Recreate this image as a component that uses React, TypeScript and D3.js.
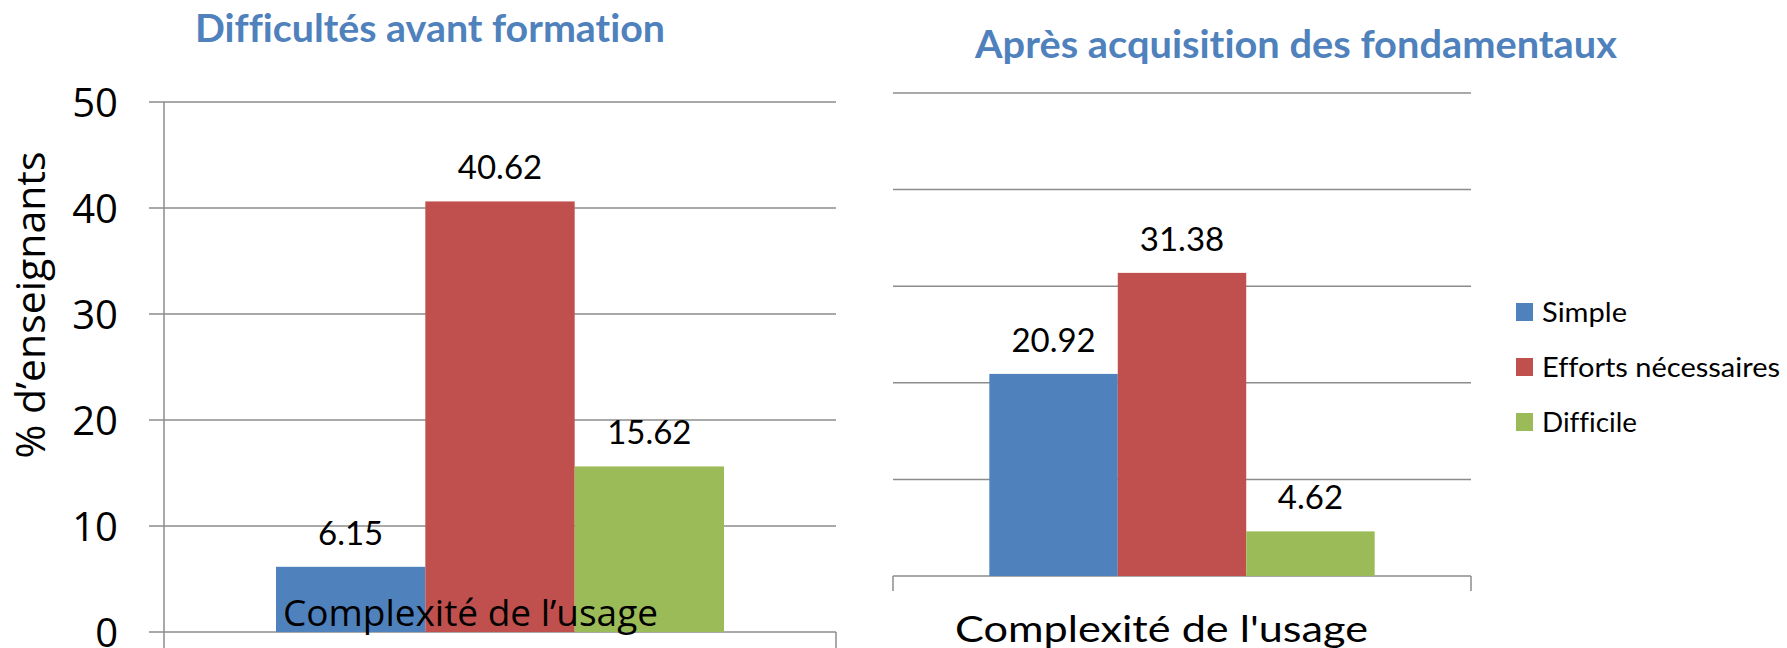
import React from "react";
import * as d3 from "d3";

// chart data
const categories = ["Complexité de l'usage"];
const seriesNames = ["Simple", "Efforts nécessaires", "Difficile"];
const seriesColors = ["#4F81BD", "#C0504D", "#9BBB59"];
const beforeValues = [6.15, 40.62, 15.62];
const afterValues = [20.92, 31.38, 4.62];
const yTicks = [0, 10, 20, 30, 40, 50];

const W = 1787;
const H = 648;
const GRID = "#8c8c8c";
const noLig = { fontVariantLigatures: "none" as const };
const legendWidths = [85, 238, 95];

function Bars({ values, x, y }: { values: number[]; x: d3.ScaleBand<string>; y: d3.ScaleLinear<number, number> }) {
  // inner band: bars fill 2/3 of the category (gap width 50%)
  const inner = d3.scaleBand<string>().domain(seriesNames).range([0, x.bandwidth()]).paddingOuter(0.75);
  return (
    <g>
      {categories.map((c) => (
        <g key={c} transform={`translate(${x(c)},0)`}>
          {values.map((v, i) => (
            <g key={seriesNames[i]}>
              <rect
                x={inner(seriesNames[i])}
                y={y(v)}
                width={inner.bandwidth()}
                height={y(0) - y(v)}
                fill={seriesColors[i]}
              />
              <text
                x={(inner(seriesNames[i]) as number) + inner.bandwidth() / 2}
                y={y(v) - 22}
                textAnchor="middle"
                fontFamily="Lato"
                fontSize={33}
                fill="#000"
              >
                {v.toFixed(2)}
              </text>
            </g>
          ))}
        </g>
      ))}
    </g>
  );
}

export default function App() {
  // left chart: before training
  const xL = d3.scaleBand<string>().domain(categories).range([164, 836]);
  const yL = d3.scaleLinear().domain([0, 50]).range([632, 102]);
  // right chart: after the basics
  const xR = d3.scaleBand<string>().domain(categories).range([893, 1471]);
  const yR = d3.scaleLinear().domain([0, 50]).range([576, 93]);

  return (
    <svg
      width={W}
      height={H}
      style={{ position: "absolute", left: 0, top: 0, background: "#fff" }}
    >
      <rect width={W} height={H} fill="#fff" />

      {/* left chart */}
      <text x={430} y={42} textAnchor="middle" fontFamily="Lato" fontWeight="bold" fontSize={39}
        fill="#4F81BD" textLength={470} lengthAdjust="spacingAndGlyphs" style={noLig}>
        Difficultés avant formation
      </text>
      {yTicks.map((t) => (
        <g key={t}>
          <line x1={149} x2={836} y1={yL(t)} y2={yL(t)} stroke={GRID} strokeWidth={1.5} />
          <text x={118} y={yL(t) + 14.5} textAnchor="end" fontFamily="Open Sans" fontSize={40} fill="#000">
            {t}
          </text>
        </g>
      ))}
      <line x1={164} x2={164} y1={yL(50)} y2={H} stroke={GRID} strokeWidth={1.5} />
      <line x1={836} x2={836} y1={yL(0)} y2={H} stroke={GRID} strokeWidth={1.5} />
      <text transform="translate(45,305) rotate(-90)" textAnchor="middle" fontFamily="Open Sans" fontSize={40}
        fill="#000" textLength={307} lengthAdjust="spacingAndGlyphs">
        % d’enseignants
      </text>
      <Bars values={beforeValues} x={xL} y={yL} />
      <text x={470.5} y={626} textAnchor="middle" fontFamily="Open Sans" fontSize={36} fill="#000"
        textLength={375} lengthAdjust="spacingAndGlyphs">
        Complexité de l’usage
      </text>

      {/* right chart */}
      <text x={1296} y={58} textAnchor="middle" fontFamily="Lato" fontWeight="bold" fontSize={39}
        fill="#4F81BD" textLength={642} lengthAdjust="spacingAndGlyphs" style={noLig}>
        Après acquisition des fondamentaux
      </text>
      {yTicks.map((t) => (
        <line key={t} x1={893} x2={1471} y1={yR(t)} y2={yR(t)} stroke={GRID} strokeWidth={1.5} />
      ))}
      <line x1={893} x2={893} y1={yR(0)} y2={yR(0) + 15} stroke={GRID} strokeWidth={1.5} />
      <line x1={1471} x2={1471} y1={yR(0)} y2={yR(0) + 15} stroke={GRID} strokeWidth={1.5} />
      <Bars values={afterValues} x={xR} y={yR} />
      <text x={1161.5} y={642} textAnchor="middle" fontFamily="Lato" fontSize={36} fill="#000"
        textLength={413} lengthAdjust="spacingAndGlyphs" style={noLig}>
        {categories[0]}
      </text>

      {/* legend */}
      {seriesNames.map((s, i) => (
        <g key={s} transform={`translate(1516,${312 + i * 55})`}>
          <rect x={0} y={-9} width={17} height={18} fill={seriesColors[i]} />
          <text x={26} y={10} fontFamily="Lato" fontSize={27} fill="#000"
            textLength={legendWidths[i]} lengthAdjust="spacingAndGlyphs" style={noLig}>
            {s}
          </text>
        </g>
      ))}
    </svg>
  );
}
